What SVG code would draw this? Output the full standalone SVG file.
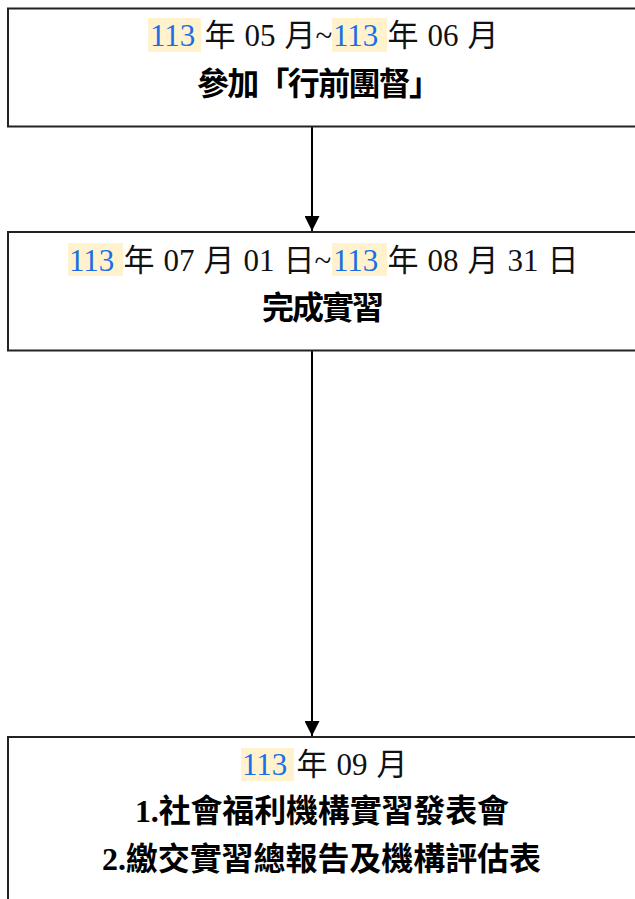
<svg xmlns="http://www.w3.org/2000/svg" width="635" height="899" viewBox="0 0 635 899">
<style>
.box{fill:#fff;stroke:#222;stroke-width:2}
.hl{fill:#fff2cc}
.t{font-family:"Liberation Serif","Noto Sans CJK TC",serif;font-size:31px;fill:#111;word-spacing:1.3px}
.yr{fill:#1a6fe8}
.b{font-family:"Liberation Serif","Noto Sans CJK TC",serif;font-size:32px;font-weight:700;fill:#000}
.conn{stroke:#000;stroke-width:2;fill:none}
</style>
<defs>
<marker id="ah" markerWidth="15" markerHeight="15" refX="15" refY="7.5" orient="auto" markerUnits="userSpaceOnUse">
<path d="M0,0 L15,7.5 L0,15 Z" fill="#000"/>
</marker>
</defs>
<rect width="635" height="899" fill="#fff"/>
<g id="connectors">
<line class="conn" x1="312" y1="127" x2="312" y2="231" marker-end="url(#ah)"/>
<line class="conn" x1="312" y1="351" x2="312" y2="736" marker-end="url(#ah)"/>
</g>
<g id="node1">
<rect class="box" x="8" y="8.5" width="640" height="118"/>
<rect class="hl" x="148" y="18" width="53" height="34"/>
<rect class="hl" x="332" y="18" width="55" height="34"/>
<text class="t" y="46"><tspan x="150" class="yr">113</tspan><tspan> 年 05 月~</tspan><tspan x="333" class="yr">113</tspan><tspan> 年 06 月</tspan></text>
<text class="b" x="197" y="95" textLength="244" lengthAdjust="spacing">參加「行前團督」</text>
</g>
<g id="node2">
<rect class="box" x="8" y="232" width="640" height="118.5"/>
<rect class="hl" x="68" y="243" width="55" height="33"/>
<rect class="hl" x="332" y="243" width="55" height="33"/>
<text class="t" y="271"><tspan x="69" class="yr">113</tspan><tspan> 年 07 月 01 日~</tspan><tspan x="333" class="yr">113</tspan><tspan> 年 08 月 31 日</tspan></text>
<text class="b" x="262" y="319" textLength="122" lengthAdjust="spacing">完成實習</text>
</g>
<g id="node3">
<rect class="box" x="8" y="737" width="640" height="180"/>
<rect class="hl" x="241" y="748" width="53" height="33"/>
<text class="t" y="775"><tspan x="242" class="yr">113</tspan><tspan> 年 09 月</tspan></text>
<text class="b" x="135" y="822" textLength="374" lengthAdjust="spacing">1.社會福利機構實習發表會</text>
<text class="b" x="102" y="870" textLength="439" lengthAdjust="spacing">2.繳交實習總報告及機構評估表</text>
</g>
</svg>
